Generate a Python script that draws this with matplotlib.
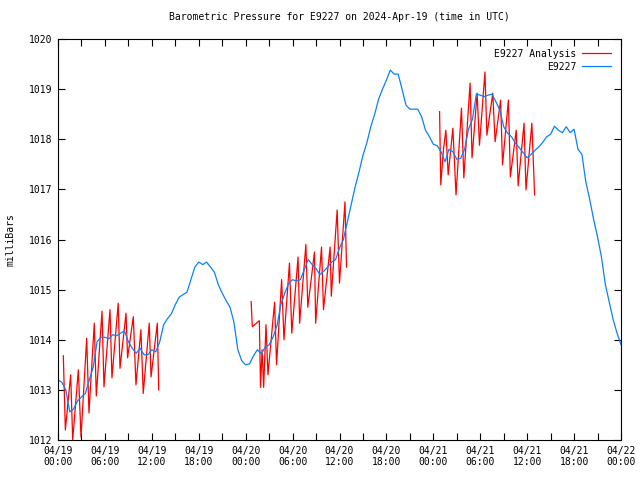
import matplotlib
matplotlib.use("Agg")
import matplotlib.pyplot as plt
import numpy as np

# ---- data (hours since 2024-04-19 00:00 UTC) ----
blue_hours = [i * 0.5 for i in range(145)]
blue_values = [
    1013.2, 1013.15, 1013.0, 1012.56, 1012.62, 1012.78, 1012.86, 1012.93, 1013.2, 1013.45,
    1013.96, 1014.05, 1014.05, 1014.02, 1014.1, 1014.08, 1014.13, 1014.18, 1013.96, 1013.83,
    1013.73, 1013.83, 1013.7, 1013.7, 1013.8, 1013.76, 1013.95, 1014.3, 1014.42, 1014.52,
    1014.7, 1014.85, 1014.9, 1014.95, 1015.2, 1015.45, 1015.55, 1015.5, 1015.55, 1015.45,
    1015.35, 1015.1, 1014.93, 1014.78, 1014.65, 1014.35, 1013.8, 1013.58, 1013.5, 1013.52,
    1013.68, 1013.8, 1013.72, 1013.85, 1013.9, 1014.05, 1014.28, 1014.7, 1014.93, 1015.12,
    1015.2, 1015.17, 1015.2, 1015.4, 1015.6, 1015.5, 1015.42, 1015.3, 1015.37, 1015.45,
    1015.55, 1015.6, 1015.83, 1016.0, 1016.35, 1016.7, 1017.05, 1017.35, 1017.68, 1017.93,
    1018.25, 1018.5, 1018.8, 1019.0, 1019.18, 1019.38, 1019.3, 1019.3, 1019.0, 1018.68,
    1018.6, 1018.6, 1018.6, 1018.45, 1018.18, 1018.05, 1017.9, 1017.87, 1017.75, 1017.55,
    1017.8, 1017.75, 1017.6, 1017.62, 1017.8, 1018.2, 1018.4, 1018.9, 1018.88, 1018.85,
    1018.88, 1018.9, 1018.75, 1018.58, 1018.25, 1018.12, 1018.05, 1017.92, 1017.83, 1017.73,
    1017.63, 1017.7, 1017.78, 1017.85, 1017.94, 1018.05, 1018.1, 1018.26, 1018.18, 1018.13,
    1018.25, 1018.13, 1018.2, 1017.8, 1017.7, 1017.15, 1016.8, 1016.4, 1016.05, 1015.65,
    1015.1, 1014.75, 1014.4, 1014.13, 1013.9,
]

red1_hours = [0.68, 0.94, 1.62, 1.88, 2.6, 2.94, 3.67, 3.96, 4.64, 4.9, 5.63, 5.88, 6.65, 6.9,
              7.7, 7.93, 8.7, 8.9, 9.63, 9.97, 10.6, 10.9, 11.67, 11.9, 12.7, 12.88]
red1_values = [1013.68, 1012.2, 1013.3, 1012.0, 1013.4, 1012.06, 1014.03, 1012.54, 1014.33, 1012.88,
               1014.57, 1013.06, 1014.6, 1013.24, 1014.73, 1013.43, 1014.53, 1013.64, 1014.46, 1013.1,
               1014.2, 1012.93, 1014.33, 1013.26, 1014.33, 1013.0]

red2_hours = [24.7, 24.85, 25.75, 25.9, 26.1, 26.3, 26.6, 26.85, 27.7, 27.95, 28.6, 28.9, 29.6, 29.9,
              30.7, 30.9, 31.7, 31.95, 32.8, 32.95, 33.7, 33.95, 34.8, 34.95, 35.7, 36.0, 36.7, 36.9]
red2_values = [1014.76, 1014.26, 1014.38, 1013.05, 1013.8, 1013.05, 1014.3, 1013.3, 1014.75, 1013.5,
               1015.2, 1014.0, 1015.53, 1014.13, 1015.65, 1014.33, 1015.9, 1014.65, 1015.75, 1014.33,
               1015.85, 1014.6, 1015.85, 1014.87, 1016.59, 1015.13, 1016.75, 1015.45]

red3_hours = [48.8, 48.95, 49.3, 49.6, 49.9, 50.5, 50.9, 51.6, 51.9, 52.7, 52.95, 53.6, 53.9, 54.6,
              54.85, 55.6, 55.9, 56.6, 56.85, 57.6, 57.85, 58.6, 58.85, 59.6, 59.85, 60.6, 60.95]
red3_values = [1018.55, 1017.09, 1017.8, 1018.18, 1017.29, 1018.22, 1016.89, 1018.62, 1017.23, 1019.12,
               1017.63, 1018.92, 1017.88, 1019.34, 1018.08, 1018.92, 1017.95, 1018.78, 1017.49, 1018.78,
               1017.25, 1018.18, 1017.07, 1018.32, 1016.99, 1018.32, 1016.89]

xtick_hours = [0, 6, 12, 18, 24, 30, 36, 42, 48, 54, 60, 66, 72]
xtick_labels = ["04/19\n00:00", "04/19\n06:00", "04/19\n12:00", "04/19\n18:00",
                "04/20\n00:00", "04/20\n06:00", "04/20\n12:00", "04/20\n18:00",
                "04/21\n00:00", "04/21\n06:00", "04/21\n12:00", "04/21\n18:00",
                "04/22\n00:00"]
ytick_values = [1012, 1013, 1014, 1015, 1016, 1017, 1018, 1019, 1020]

# ---- figure ----
mono = "DejaVu Sans Mono"
fs = 7
fig = plt.figure(figsize=(6.4, 4.8), dpi=100)
ax = fig.add_axes([58 / 640, 1 - 440 / 480, (621 - 58) / 640, (440 - 39) / 480])

red = "#ff0000"
blue = "#0a80ff"
lw = 0.9

ax.plot(red1_hours, red1_values, color=red, lw=lw, label="E9227 Analysis")
ax.plot(red2_hours, red2_values, color=red, lw=lw)
ax.plot(red3_hours, red3_values, color=red, lw=lw)
ax.plot(blue_hours, blue_values, color=blue, lw=lw, label="E9227")

ax.set_xlim(0, 72)
ax.set_ylim(1012, 1020)
ax.set_xticks(xtick_hours)
ax.set_xticklabels(xtick_labels, fontfamily=mono, fontsize=fs)
ax.set_xticks(np.arange(3, 72, 6), minor=True)
ax.set_yticks(ytick_values)
ax.set_yticklabels([str(v) for v in ytick_values], fontfamily=mono, fontsize=fs)
ax.tick_params(axis="both", which="both", direction="in", top=True, right=True,
               length=5, width=0.8, pad=4)
for s in ax.spines.values():
    s.set_linewidth(0.8)

ax.set_ylabel("milliBars", fontfamily=mono, fontsize=fs, labelpad=10)
ax.set_title("Barometric Pressure for E9227 on 2024-Apr-19 (time in UTC)",
             fontfamily=mono, fontsize=fs, pad=14)

leg = ax.legend(loc="upper right", frameon=False, markerfirst=False,
                prop={"family": mono, "size": fs}, handlelength=3.0,
                handletextpad=0.6, labelspacing=0.3, borderaxespad=0.6)

fig.savefig("out.png", dpi=100)
